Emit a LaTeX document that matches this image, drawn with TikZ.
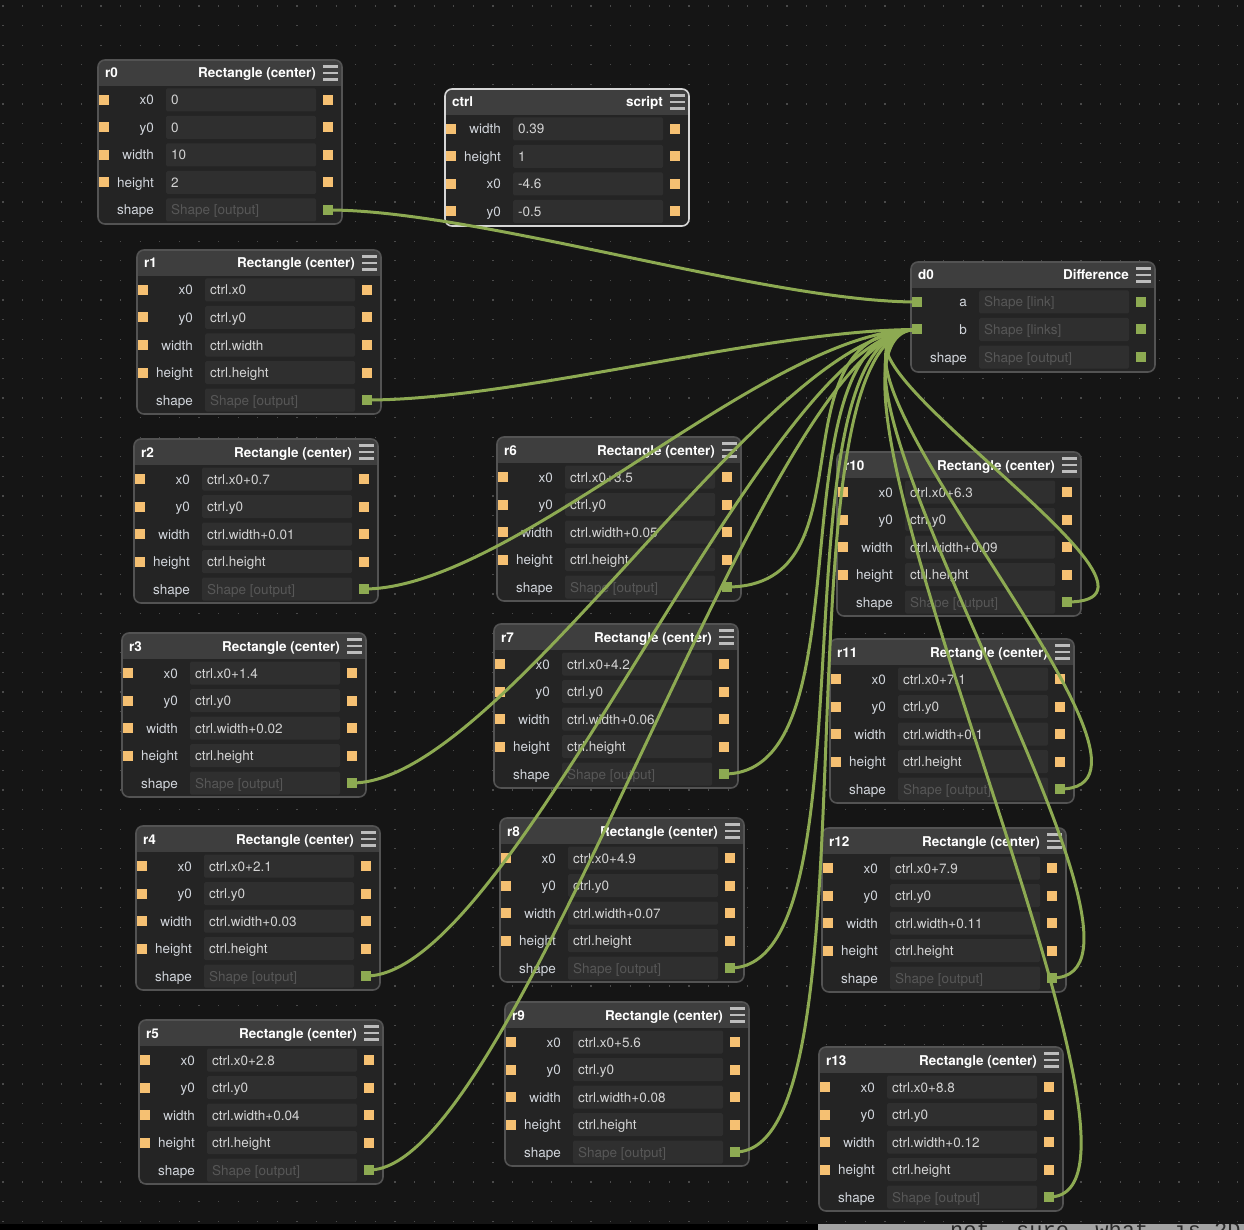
\documentclass[tikz,border=0pt]{standalone}
\usepackage{fontspec}
\setmainfont{TeX Gyre Heros}
\newfontfamily\monof{Liberation Mono}
\definecolor{bgc}{HTML}{151515}
\definecolor{gridc}{HTML}{4A4A4A}
\definecolor{bodyc}{HTML}{242424}
\definecolor{headc}{HTML}{3E3E3E}
\definecolor{fieldc}{HTML}{2F2F2F}
\definecolor{bordc}{HTML}{535353}
\definecolor{selc}{HTML}{D6D6D6}
\definecolor{lblc}{HTML}{D2D6DC}
\definecolor{valc}{HTML}{D4D4D4}
\definecolor{phc}{HTML}{575757}
\definecolor{portor}{HTML}{F5C072}
\definecolor{portgr}{HTML}{8DAA52}
\definecolor{wirec}{HTML}{8DAA52}
\definecolor{menuc}{HTML}{BDBDBD}
\definecolor{stripc}{HTML}{A3A3A3}
\definecolor{striptext}{HTML}{2A2A2A}
\tikzset{
  wire/.style={draw=wirec, line width=3pt, line cap=round},
  lbl/.style={anchor=base east, inner sep=0, text=lblc, font=\fontsize{13.5}{16}\selectfont},
  val/.style={anchor=base west, inner sep=0, text=valc, font=\fontsize{13.5}{16}\selectfont},
  titleL/.style={anchor=base west, inner sep=0, text=white, font=\bfseries\fontsize{13.5}{16}\selectfont},
  titleR/.style={anchor=base east, inner sep=0, text=white, font=\bfseries\fontsize{13.5}{16}\selectfont},
  oport/.style={fill=portor},
  gport/.style={fill=portgr},
  noport/.style={},
  menubar/.style={draw=menuc, line width=2.6pt},
  plainframe/.style={draw=bordc},
  selframe/.style={draw=selc}
}
% frame: name, L, T, H, left title, right title, frame style
\newcommand\nframe[7]{%
  \fill[bodyc, rounded corners=7pt] (#2,#3) rectangle (#2+244,#3+#4);
  \begin{scope}
    \clip[rounded corners=7pt] (#2,#3) rectangle (#2+244,#3+#4);
    \fill[headc] (#2,#3) rectangle (#2+244,#3+26);
  \end{scope}
  \draw[#7, line width=1.6pt, rounded corners=7pt] (#2,#3) rectangle (#2+244,#3+#4);
  \node[titleL] at (#2+7,#3+18) {#5};
  \node[titleR] at (#2+218,#3+18) {#6};
  \foreach \dy in {6.5,13,19.5}{\draw[menubar] (#2+225,#3+\dy) -- (#2+240,#3+\dy);}
  \node[inner sep=0, minimum width=244, minimum height=#4, anchor=north west] (#1) at (#2,#3) {};
}
% row: L, Y, label, value, left port style, right port style
\newcommand\prow[6]{%
  \fill[fieldc, rounded corners=1.5pt] (#1+68,#2-11.5) rectangle (#1+218,#2+11.5);
  \node[lbl] at (#1+56,#2+5) {#3};
  \node[val] at (#1+73,#2+5) {#4};
  \path[#5] (#1+1,#2-5) rectangle (#1+11,#2+5);
  \path[#6] (#1+225,#2-5) rectangle (#1+235,#2+5);
}
% rectangle node: name, L, T, x0, y0, width, height
\newcommand\rectnode[7]{%
  \nframe{#1}{#2}{#3}{164}{#1}{Rectangle (center)}{plainframe}
  \prow{#2}{#3+40}{x0}{#4}{oport}{oport}
  \prow{#2}{#3+67.5}{y0}{#5}{oport}{oport}
  \prow{#2}{#3+95}{width}{#6}{oport}{oport}
  \prow{#2}{#3+122.5}{height}{#7}{oport}{oport}
  \prow{#2}{#3+150}{shape}{\textcolor{phc}{Shape [output]}}{noport}{gport}
  \coordinate (#1-out) at (#2+230,#3+150);
}
\newcommand\wire[2]{\draw[wire] (#1) .. controls +(150,0) and +(-150,0) .. (#2);}
\begin{document}
\begin{tikzpicture}[x=1pt,y=-1pt]
\useasboundingbox (0,0) rectangle (1244,1230);
\fill[bgc] (0,0) rectangle (1244,1230);
% dotted grid
\foreach \y in {6,25.6,...,1224}{\draw[gridc, line width=1.2pt, dash pattern=on 1.2pt off 18.4pt] (2.4,\y) -- (1244,\y);}
% bottom strip
\fill[black] (0,1224) rectangle (818,1230);
\fill[stripc] (818,1224) rectangle (1244,1230);
\begin{scope}
  \clip (818,1224) rectangle (1244,1230);
  \node[anchor=base west, inner sep=0, text=striptext, font=\monof\fontsize{22}{22}\selectfont] (strip) at (950,1237) {not\ \ sure\ \ what\ \ is 2D o};
\end{scope}

% nodes
\rectnode{r0}{98}{60}{0}{0}{10}{2}
\nframe{ctrl}{445}{89}{137}{ctrl}{script}{selframe}
\prow{445}{129}{width}{0.39}{oport}{oport}
\prow{445}{156.5}{height}{1}{oport}{oport}
\prow{445}{184}{x0}{-4.6}{oport}{oport}
\prow{445}{211.5}{y0}{-0.5}{oport}{oport}
\rectnode{r1}{137}{250}{ctrl.x0}{ctrl.y0}{ctrl.width}{ctrl.height}
\rectnode{r2}{134}{439}{ctrl.x0+0.7}{ctrl.y0}{ctrl.width+0.01}{ctrl.height}
\rectnode{r3}{122}{633}{ctrl.x0+1.4}{ctrl.y0}{ctrl.width+0.02}{ctrl.height}
\rectnode{r4}{136}{826}{ctrl.x0+2.1}{ctrl.y0}{ctrl.width+0.03}{ctrl.height}
\rectnode{r5}{139}{1020}{ctrl.x0+2.8}{ctrl.y0}{ctrl.width+0.04}{ctrl.height}
\rectnode{r6}{497}{437}{ctrl.x0+3.5}{ctrl.y0}{ctrl.width+0.05}{ctrl.height}
\rectnode{r7}{494}{624}{ctrl.x0+4.2}{ctrl.y0}{ctrl.width+0.06}{ctrl.height}
\rectnode{r8}{500}{818}{ctrl.x0+4.9}{ctrl.y0}{ctrl.width+0.07}{ctrl.height}
\rectnode{r9}{505}{1002}{ctrl.x0+5.6}{ctrl.y0}{ctrl.width+0.08}{ctrl.height}
\rectnode{r10}{837}{452}{ctrl.x0+6.3}{ctrl.y0}{ctrl.width+0.09}{ctrl.height}
\rectnode{r11}{830}{639}{ctrl.x0+7.1}{ctrl.y0}{ctrl.width+0.1}{ctrl.height}
\rectnode{r12}{822}{828}{ctrl.x0+7.9}{ctrl.y0}{ctrl.width+0.11}{ctrl.height}
\rectnode{r13}{819}{1047}{ctrl.x0+8.8}{ctrl.y0}{ctrl.width+0.12}{ctrl.height}
% difference node
\nframe{d0}{911}{262}{110}{d0}{Difference}{plainframe}
\prow{911}{302}{a}{\textcolor{phc}{Shape [link]}}{gport}{gport}
\prow{911}{329.5}{b}{\textcolor{phc}{Shape [links]}}{gport}{gport}
\prow{911}{357}{shape}{\textcolor{phc}{Shape [output]}}{noport}{gport}
\coordinate (d0-a) at (917,302);
\coordinate (d0-b) at (917,329.5);

% wires
\wire{r0-out}{d0-a}
\foreach \n in {r1,r2,r3,r4,r5,r6,r7,r8,r9,r10,r11,r12,r13}{\wire{\n-out}{d0-b}}
\end{tikzpicture}
\end{document}
